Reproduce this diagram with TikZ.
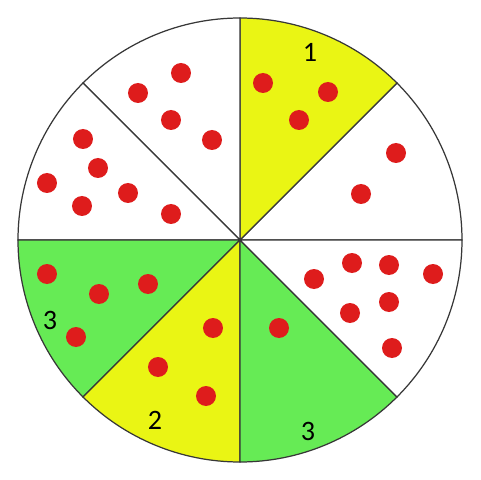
\documentclass[tikz,border=0pt]{standalone}
\usepackage{fontspec}
\setmainfont{Carlito}
\usetikzlibrary{positioning}
\definecolor{slicey}{RGB}{234,245,20}
\definecolor{sliceg}{RGB}{102,235,85}
\definecolor{dotred}{RGB}{222,28,28}
\definecolor{rimgray}{RGB}{55,55,55}

\begin{document}
\begin{tikzpicture}[
    x=0.02cm, y=0.02cm,
    slice/.style={draw=rimgray, line width=0.7pt},
    dot/.style={fill=dotred},
    lbl/.style={font=\fontsize{16}{18}\selectfont, text=black}
]
    \useasboundingbox (-240,-240) rectangle (240,240);
    % slices
    \filldraw[slice, fill=white]  (0,0) -- (0:222) arc (0:45:222) -- cycle;
    \filldraw[slice, fill=slicey] (0,0) -- (45:222) arc (45:90:222) -- cycle;
    \filldraw[slice, fill=white]  (0,0) -- (90:222) arc (90:135:222) -- cycle;
    \filldraw[slice, fill=white]  (0,0) -- (135:222) arc (135:180:222) -- cycle;
    \filldraw[slice, fill=sliceg] (0,0) -- (180:222) arc (180:225:222) -- cycle;
    \filldraw[slice, fill=slicey] (0,0) -- (225:222) arc (225:270:222) -- cycle;
    \filldraw[slice, fill=sliceg] (0,0) -- (270:222) arc (270:315:222) -- cycle;
    \filldraw[slice, fill=white]  (0,0) -- (315:222) arc (315:360:222) -- cycle;
    % dots
    \foreach \p in {(23,157),(88,148),(59,120),
                    (156,87),(121,46),
                    (-59,167),(-102,147),(-69,120),(-28,100),
                    (-157,101),(-142,72),(-193,57),(-112,47),(-158,34),(-69,26),
                    (-193,-34),(-141,-54),(-92,-44),(-164,-97),
                    (-27,-88),(-82,-127),(-34,-156),
                    (39,-88),
                    (74,-39),(112,-23),(149,-25),(193,-34),(110,-73),(149,-62),(152,-108)}
        \fill[dot] \p circle (10);
    % labels
    \node[lbl] (one) at (70,188) {1};
    \node[lbl] (twoy) at (-85,-180) {2};
    \node[lbl] (threel) at (-190,-80) {3};
    \node[lbl] (threeb) at (68,-191) {3};
\end{tikzpicture}
\end{document}
